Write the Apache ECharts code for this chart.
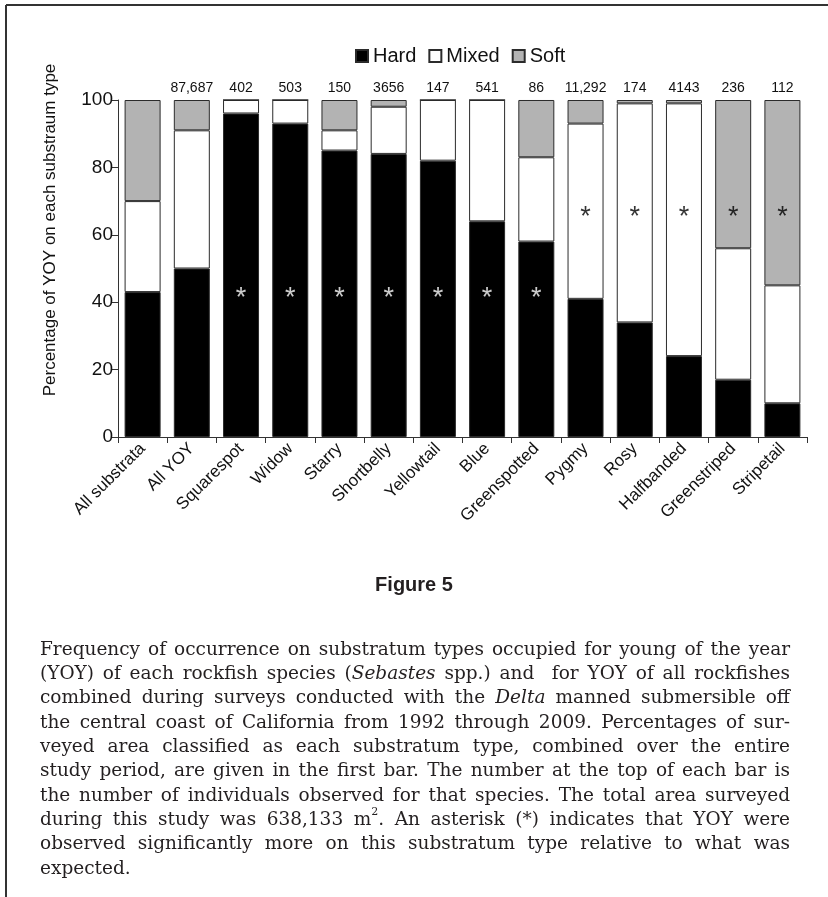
<!DOCTYPE html>
<html>
<head>
<meta charset="utf-8">
<script src="https://cdn.jsdelivr.net/npm/echarts@6/dist/echarts.min.js"></script>
<style>
html,body{margin:0;padding:0;background:#fff;}
#chart{width:828px;height:897px;}
</style>
</head>
<body>
<div id="chart"></div>
<script>
// ---- data ----
const categories = ['All substrata','All YOY','Squarespot','Widow','Starry','Shortbelly','Yellowtail','Blue','Greenspotted','Pygmy','Rosy','Halfbanded','Greenstriped','Stripetail'];
const counts = ['', '87,687','402','503','150','3656','147','541','86','11,292','174','4143','236','112'];
const hard  = [43, 50, 96, 93, 85, 84, 82, 64, 58, 41, 34, 24, 17, 10];
const mixed = [27, 41,  4,  7,  6, 14, 18, 36, 25, 52, 65, 75, 39, 35];
const soft  = [30,  9,  0,  0,  9,  2,  0,  0, 17,  7,  1,  1, 44, 55];
// asterisk positions (value on y axis), null = none
const starOnHard  = [null,null,43,43,43,43,43,43,43,null,null,null,null,null];
const starOnOther = [null,null,null,null,null,null,null,null,null,67,67,67,67,67];
const yTicks = [0,20,40,60,80,100];

const captionLines = [
  'Frequency of occurrence on substratum types occupied for young of the year',
  '(YOY) of each rockfish species (_Sebastes_ spp.) and  for YOY of all rockfishes',
  'combined during surveys conducted with the _Delta_ manned submersible off',
  'the central coast of California from 1992 through 2009. Percentages of sur-',
  'veyed area classified as each substratum type, combined over the entire',
  'study period, are given in the first bar. The number at the top of each bar is',
  'the number of individuals observed for that species. The total area surveyed',
  'during this study was 638,133 m^2. An asterisk (*) indicates that YOY were',
  'observed significantly more on this substratum type relative to what was',
  'expected.'
];

const SANS = '"Liberation Sans", Arial, Helvetica, sans-serif';
const NARROW = '"Liberation Sans Narrow", "Arial Narrow", "Liberation Sans", sans-serif';
const SERIF = '"DejaVu Serif", serif';
const BORDER = '#2b2b2b';

const chart = echarts.init(document.getElementById('chart'), null, {renderer:'canvas'});

// ---- caption layout (justified) ----
const mctx = document.createElement('canvas').getContext('2d');
const CAP_SIZE = 18.5, SUP_SIZE = 11;
function segFont(kind){
  if(kind==='i') return 'italic normal ' + CAP_SIZE + 'px ' + SERIF;
  if(kind==='sup') return 'normal normal ' + SUP_SIZE + 'px ' + SERIF;
  return 'normal normal ' + CAP_SIZE + 'px ' + SERIF;
}
function parseWord(w){
  const segs = [];
  let m;
  if((m = w.match(/^(.*)_([^_]+)_(.*)$/))){
    if(m[1]) segs.push({t:m[1],k:'n'});
    segs.push({t:m[2],k:'i'});
    if(m[3]) segs.push({t:m[3],k:'n'});
  } else if((m = w.match(/^(.*)\^(\d)(.*)$/))){
    if(m[1]) segs.push({t:m[1],k:'n'});
    segs.push({t:m[2],k:'sup'});
    if(m[3]) segs.push({t:m[3],k:'n'});
  } else if(w.length){
    segs.push({t:w,k:'n'});
  }
  segs.forEach(s=>{ mctx.font = segFont(s.k); s.w = mctx.measureText(s.t).width; });
  return segs;
}
const capLeft = 40, capRight = 790, capTop = 650, capStep = 24.3;
const captionGraphics = [];
captionLines.forEach((line, li)=>{
  const words = line.split(' ').map(parseWord);
  const widths = words.map(ss=>ss.reduce((a,s)=>a+s.w,0));
  const total = widths.reduce((a,b)=>a+b,0);
  mctx.font = segFont('n');
  const spaceW = mctx.measureText(' ').width;
  const last = li === captionLines.length-1;
  let gap = last ? spaceW : (capRight - capLeft - total)/(words.length-1);
  let x = capLeft;
  const y = capTop + li*capStep;
  words.forEach((ss)=>{
    ss.forEach(s=>{
      captionGraphics.push({
        type:'text', silent:true,
        style:{text:s.t, x:x, y: s.k==='sup' ? y-8 : y, font:segFont(s.k), fill:'#231f20', align:'left', verticalAlign:'middle'}
      });
      x += s.w;
    });
    x += gap;
  });
});

function starData(arr){
  const out = [];
  arr.forEach((v,i)=>{ if(v!==null) out.push([categories[i], v]); });
  return out;
}

const option = {
  animation:false,
  backgroundColor:'#fff',
  textStyle:{fontFamily:SANS},
  legend:{
    data:['Hard','Mixed','Soft'],
    left:350, top:41,
    itemWidth:12, itemHeight:12, itemGap:12,
    textStyle:{fontSize:20, color:'#111', fontFamily:SANS},
    icon:'rect'
  },
  grid:{left:118, right:21, top:100, bottom:460},
  xAxis:[{
    type:'category', data:categories,
    axisLine:{lineStyle:{color:'#333', width:1}},
    axisTick:{show:true, length:6, lineStyle:{color:'#333'}},
    axisLabel:{rotate:45, interval:0, fontSize:17, color:'#111', margin:9, fontFamily:SANS}
  },{
    type:'category', data:counts, position:'top',
    axisLine:{show:false}, axisTick:{show:false},
    axisLabel:{interval:0, fontSize:14, color:'#111', margin:5, fontFamily:NARROW}
  }],
  yAxis:{
    type:'value', min:0, max:100, interval:20,
    axisLine:{show:true, lineStyle:{color:'#333', width:1}},
    axisTick:{show:true, length:6, lineStyle:{color:'#333'}},
    axisLabel:{fontSize:19, color:'#111', margin:5, fontFamily:SANS},
    splitLine:{show:false}
  },
  series:[
    {name:'Hard', type:'bar', stack:'s', data:hard, barWidth:36,
     itemStyle:{color:'#000', borderColor:BORDER, borderWidth:1}},
    {name:'Mixed', type:'bar', stack:'s', data:mixed, barWidth:36,
     itemStyle:{color:'#fff', borderColor:BORDER, borderWidth:1}},
    {name:'Soft', type:'bar', stack:'s', data:soft, barWidth:36,
     itemStyle:{color:'#b3b3b3', borderColor:BORDER, borderWidth:1}},
    {name:'starHard', type:'scatter', data:starData(starOnHard), symbol:'circle', symbolSize:2,
     itemStyle:{color:'rgba(0,0,0,0)'}, z:5, silent:true,
     label:{show:true, formatter:'*', position:'inside', offset:[0,6], fontSize:27, color:'#fff', fontFamily:SANS}},
    {name:'starOther', type:'scatter', data:starData(starOnOther), symbol:'circle', symbolSize:2,
     itemStyle:{color:'rgba(0,0,0,0)'}, z:5, silent:true,
     label:{show:true, formatter:'*', position:'inside', offset:[0,6], fontSize:27, color:'#000', fontFamily:SANS}}
  ],
  graphic:[
    {type:'line', silent:true, shape:{x1:6, y1:5, x2:828, y2:5}, style:{stroke:'#333', lineWidth:2}},
    {type:'line', silent:true, shape:{x1:6, y1:5, x2:6, y2:897}, style:{stroke:'#333', lineWidth:2}},
    {type:'text', silent:true, x:50, y:230, rotation:Math.PI/2,
     style:{text:'Percentage of YOY on each substraum type', font:'normal normal 17px ' + SANS, fill:'#111', align:'center', verticalAlign:'middle'}},
    {type:'text', silent:true,
     style:{text:'Figure 5', x:414, y:585, font:'normal bold 20px ' + NARROW, fill:'#231f20', align:'center', verticalAlign:'middle'}}
  ].concat(captionGraphics)
};
chart.setOption(option);
</script>
</body>
</html>
